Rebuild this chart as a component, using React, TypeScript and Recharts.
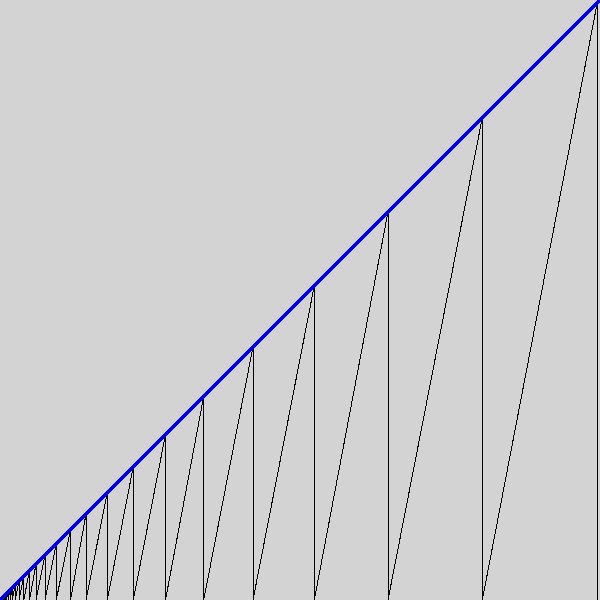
import React from 'react';
import { ComposedChart, Line, XAxis, YAxis } from 'recharts';

// x positions of the sawtooth teeth (each tooth rises to the diagonal y = x)
const teethX = [
  0.9, 1.1, 1.4, 1.8, 2.2, 2.7, 3.4, 4.2, 5.2, 6.5, 8, 10, 12.3, 15.3, 19,
  23.8, 29.5, 36, 45, 56.3, 70.5, 86, 107.3, 133.3, 165.5, 203.7, 253, 314.3,
  388, 482.3, 597.3,
];

// diagonal reference line endpoints
const diagX = [0, 600];
const diagY = [0, 600];

const axisDomain: [number, number] = [0, 600];

const sawData: { x: number; y: number }[] = (() => {
  const pts: { x: number; y: number }[] = [{ x: 0, y: 0 }];
  let prev = 0;
  for (const t of teethX) {
    pts.push({ x: prev, y: 0 });
    pts.push({ x: t, y: t });
    pts.push({ x: t, y: 0 });
    prev = t;
  }
  return pts;
})();

const diagData = diagX.map((x, i) => ({ x, y: diagY[i] }));

export default function App() {
  return (
    <div style={{ position: 'absolute', left: 0, top: 0, width: 600, height: 600, background: '#d3d3d3' }}>
      <ComposedChart width={600} height={600} margin={{ top: 0, right: 0, bottom: 0, left: 0 }}>
        <XAxis type="number" dataKey="x" domain={axisDomain} hide allowDataOverflow />
        <YAxis type="number" dataKey="y" domain={axisDomain} hide allowDataOverflow />
        <Line
          data={sawData}
          dataKey="y"
          type="linear"
          stroke="#000000"
          strokeWidth={1}
          dot={false}
          activeDot={false}
          shapeRendering="crispEdges"
          isAnimationActive={false}
        />
        <Line
          data={diagData}
          dataKey="y"
          type="linear"
          stroke="#0000ff"
          strokeWidth={3}
          dot={false}
          activeDot={false}
          shapeRendering="crispEdges"
          isAnimationActive={false}
        />
      </ComposedChart>
    </div>
  );
}
